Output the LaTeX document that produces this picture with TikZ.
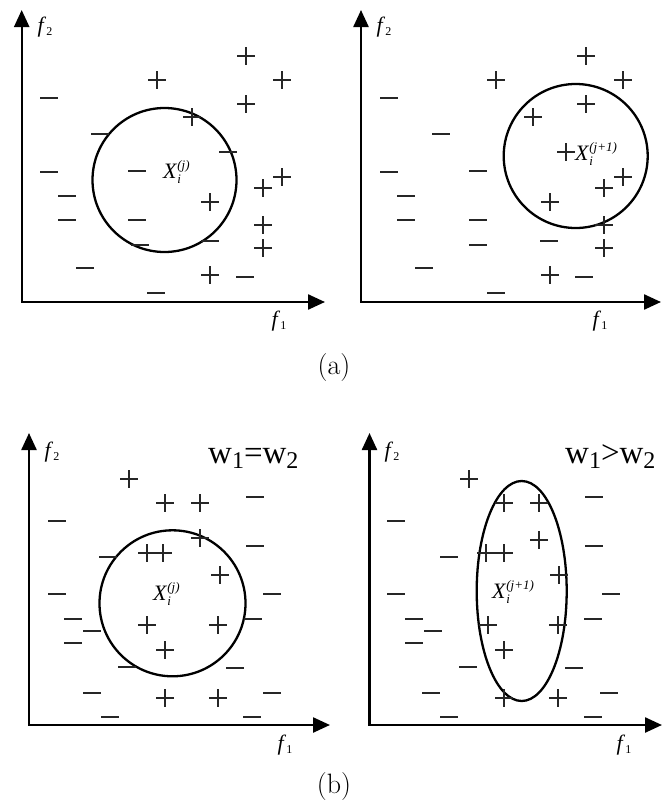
\documentclass[tikz,border=0pt]{standalone}
\usepackage{fontspec}
\newfontfamily\tnr{Liberation Serif}
\usetikzlibrary{arrows.meta}

\tikzset{
  sign/.style={line width=1.6pt,black!85},
  axis/.style={line width=2.4pt,{Triangle[length=17pt,width=15pt]}-{Triangle[length=17pt,width=15pt]}},
  ring/.style={line width=2.3pt},
  flab/.style={font=\tnr\fontsize{22}{22}\selectfont,inner sep=0pt},
  xlab/.style={font=\tnr\fontsize{22}{22}\selectfont,anchor=base west,inner sep=0pt},
  wlab/.style={font=\tnr\fontsize{33}{33}\selectfont,anchor=base west,inner sep=0pt},
  captext/.style={font=\fontsize{28}{28}\selectfont}
}
\newcommand{\fsub}[1]{\textit{f}\raisebox{-3pt}{\fontsize{12}{12}\selectfont #1}}
\newcommand{\xsub}[1]{\textit{X}\rlap{\raisebox{-5pt}{\fontsize{13}{13}\selectfont\textit{i}}}\raisebox{9pt}{\fontsize{13}{13}\selectfont\textit{#1}}}
\newcommand{\wsub}[1]{w\raisebox{-5pt}{\fontsize{24}{24}\selectfont #1}}
\newcommand{\pluses}[1]{\foreach \x/\y in {#1} \draw[sign] (\x-9,\y) -- (\x+9,\y) (\x,\y-9) -- (\x,\y+9);}
\newcommand{\minuses}[1]{\foreach \x/\y in {#1} \draw[sign] (\x-9,\y) -- (\x+9,\y);}

\begin{document}
\begin{tikzpicture}[x=1pt,y=-1pt]
\useasboundingbox (0,0) rectangle (662,809);

% (a) left
\coordinate (topA1) at (21.7,10);
\coordinate (endA1) at (325,302);
\draw[axis] (topA1) |- (endA1);
\node[flab] (f2A1) at (45,27) {\fsub{2}};
\node[flab] (f1A1) at (279,321) {\fsub{1}};
\draw[ring] (164.5,180) circle[radius=72];
\node[xlab] (labA1) at (163,178) {\xsub{(j)}};
\pluses{246/56,157/80,282/80,246/104,192/117,282/177,263/188,210/202,263/225,263/248,210/275}
\minuses{49/98,100/134,49/172,137/171,67/196,67/220,137/220,140/245,210/241,85/268,245/277,156/293,228/152}

% (a) right
\coordinate (topA2) at (361,10);
\coordinate (endA2) at (661,302);
\draw[axis] (topA2) |- (endA2);
\node[flab] (f2A2) at (384,27) {\fsub{2}};
\node[flab] (f1A2) at (600,321) {\fsub{1}};
\draw[ring] (575.7,156) circle[radius=72];
\node[xlab] (labA2) at (575,160) {\xsub{(j+1)}};
\pluses{586/56,496/80,623/80,586/104,533/117,566/152,623/177,604/188,550/202,604/225,604/248,550/275}
\minuses{389/98,441/134,389/172,478/171,406/196,406/220,478/220,478/245,549/241,424/268,584/277,496/293}

\node[captext] (capA) at (334,368) {(a)};

% (b) left
\coordinate (topB1) at (29,433);
\coordinate (endB1) at (330,725);
\draw[axis] (topB1) |- (endB1);
\node[flab] (f2B1) at (52,452) {\fsub{2}};
\node[flab] (f1B1) at (285,745) {\fsub{1}};
\node[wlab] (wB1) at (208,463) {\wsub{1}=\wsub{2}};
\draw[ring] (172.5,603.3) circle[radius=73];
\node[xlab] (labB1) at (153,600) {\xsub{(j)}};
\pluses{129/479,165/503,200/503,200/538,147/553,163/553,220/575,147/625,218/625,165/650,165/698,218/698}
\minuses{255/497,57/521,255/546,108/557,57/594,272/594,73/619,92/631,73/643,253/619,127/667,235/668,92/693,272/693,110/717,252/717}

% (b) right
\coordinate (topB2) at (369.5,433);
\coordinate (endB2) at (662,725);
\draw[axis] (topB2) |- (endB2);
\node[flab] (f2B2) at (392,452) {\fsub{2}};
\node[flab] (f1B2) at (624,745) {\fsub{1}};
\node[wlab] (wB2) at (565,463) {\wsub{1}>\wsub{2}};
\draw[ring] (521.7,591) ellipse[x radius=45,y radius=110];
\node[xlab] (labB2) at (492,598) {\xsub{(j+1)}};
\pluses{469/479,504/503,539/503,539/540,486/553,504/553,559/575,488/625,558/625,504/650,504/698,558/698}
\minuses{594/497,396/521,594/546,449/557,396/594,611/594,414/619,433/631,414/643,593/619,468/667,574/668,431/693,609/693,449/717,593/717}

\node[captext] (capB) at (334,787) {(b)};
\end{tikzpicture}
\end{document}
